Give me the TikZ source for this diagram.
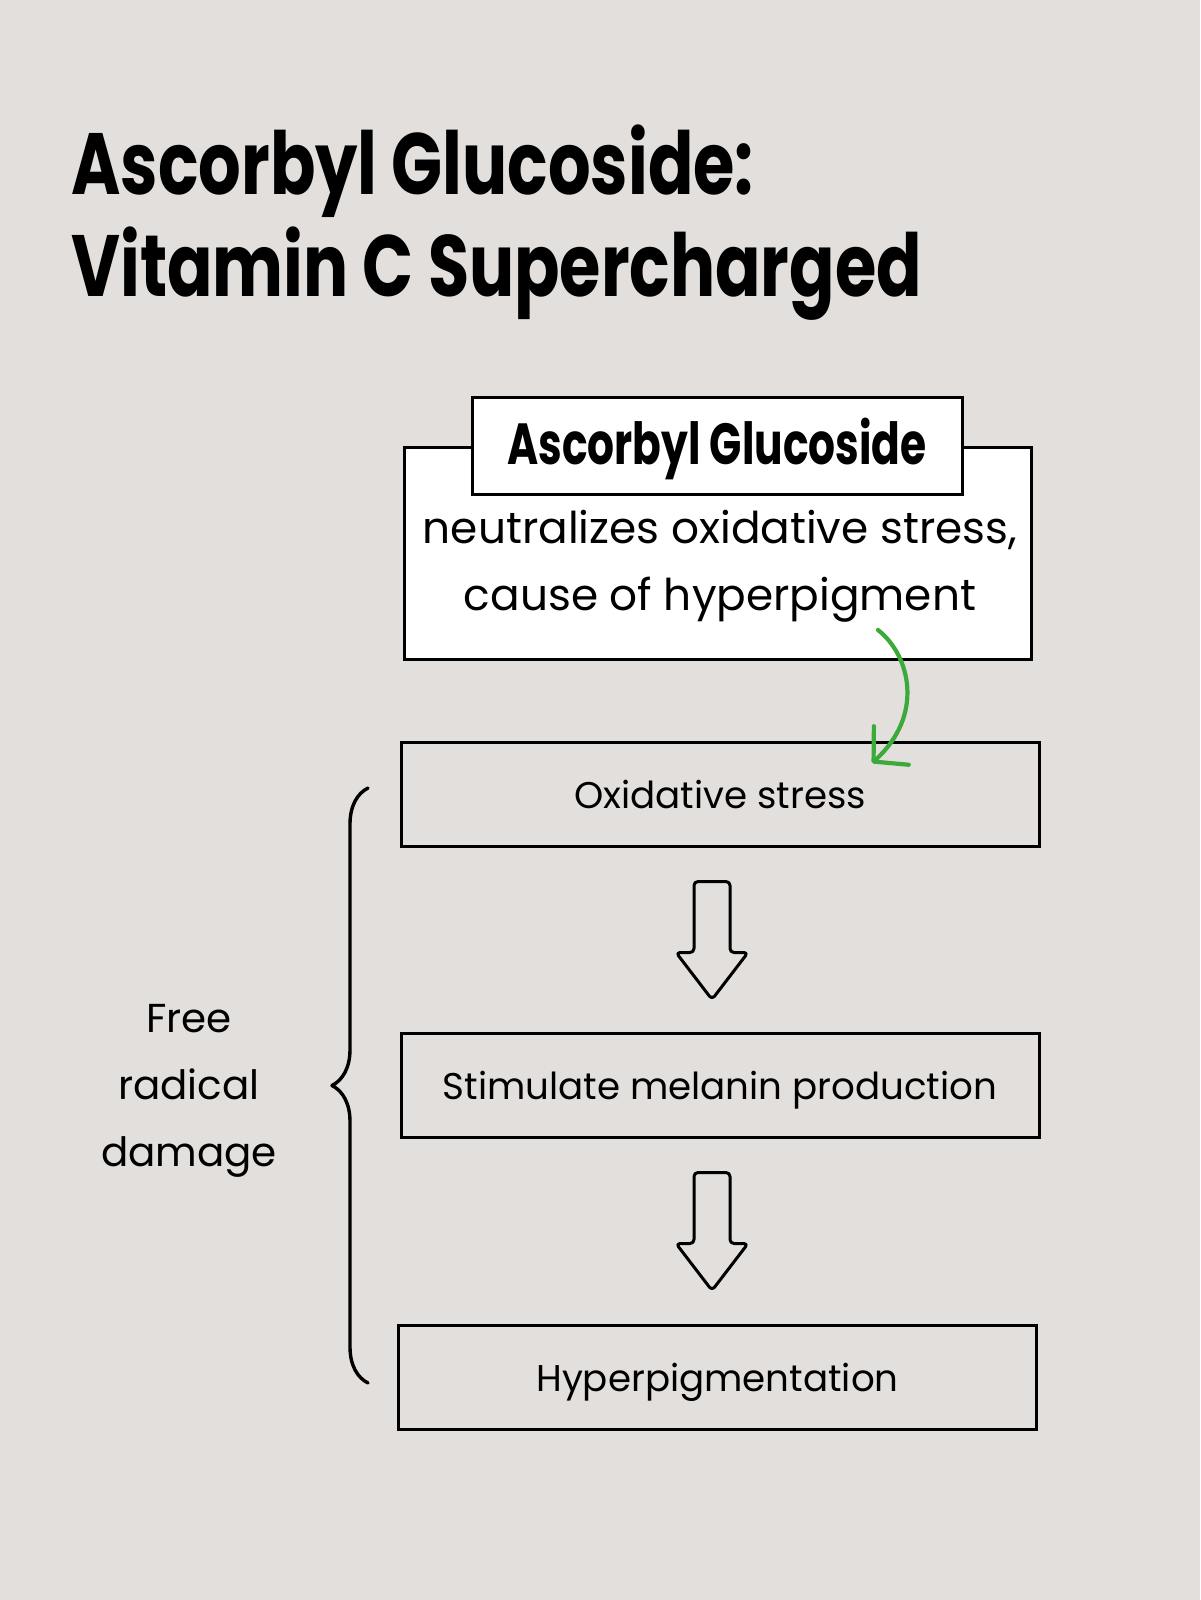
\documentclass[tikz,border=0pt]{standalone}
\usepackage{fontspec}
\setmainfont{Poppins}
\usepackage{graphicx}
\usetikzlibrary{arrows.meta}
\usetikzlibrary{calc}
\usetikzlibrary{decorations.pathreplacing}
\definecolor{paper}{HTML}{E2DFDC}
\definecolor{leafgreen}{HTML}{3BAA3A}
\newcommand{\squeezebf}[2][0.77]{\scalebox{#1}[1]{\bfseries #2}}

\begin{document}
\begin{tikzpicture}[line cap=round,line join=round,x=0.5pt,y=-0.5pt,
  titletext/.style={inner sep=0pt,anchor=base west,font=\fontsize{43.5}{52}\selectfont},
  framebox/.style={draw,fill=white,line width=1.5pt,line join=miter,inner sep=0pt},
  flowbox/.style={draw,line width=1.5pt,line join=miter,inner sep=0pt,
    minimum width=319pt,minimum height=52pt,text height=17pt,text depth=3pt,
    font=\fontsize{18.6}{22}\selectfont},
  blockarrow/.style={draw,line width=1.5pt,rounded corners=2pt},
  bodytext/.style={inner sep=0pt,align=center,font=\fontsize{21.9}{33.5}\selectfont},
  sidetext/.style={inner sep=0pt,align=center,font=\fontsize{20.2}{33.5}\selectfont}]
\fill[paper] (0,0) rectangle (1200,1600);
%title
\node[titletext] (title1) at (71,194) {\squeezebf{Ascorbyl Glucoside:}};
\node[titletext] (title2) at (71,296) {\squeezebf{Vitamin C Supercharged}};
%ingredient box
\node[framebox,minimum width=313.5pt,minimum height=106pt] (desc) at (717.5,553) {};
\node[framebox,minimum width=245pt,minimum height=48.5pt,text height=22pt,text depth=3.5pt,
  font=\fontsize{29}{35}\selectfont] (head) at (717,445.5) {\squeezebf[0.73]{Ascorbyl Glucoside}};
\node[bodytext] (desctext) at (720,566) {neutralizes oxidative stress,\\cause of hyperpigment};
%chain
\node[flowbox] (ox) at (720,794) {Oxidative stress};
\node[flowbox] (mel) at (720,1085) {Stimulate melanin production};
\node[flowbox] (hyp) at (717.5,1377) {Hyperpigmentation};
\foreach \a in {ox,mel}
  \draw[blockarrow] ($(\a.south)+(-26,34)$) -- ($(\a.south)+(10,34)$) -- ($(\a.south)+(10,105)$)
    -- ($(\a.south)+(28,105)$) -- ($(\a.south)+(-8,152)$) -- ($(\a.south)+(-44,105)$)
    -- ($(\a.south)+(-26,105)$) -- cycle;
%green arrow
\coordinate (gstart) at (878,630);
\coordinate (gend) at (872,763);
\draw[leafgreen,line width=2.1pt,-{Straight Barb[length=12pt,width=26pt,round]}] (gstart) .. controls (910,655) and (925,715) .. (gend);
%brace
\coordinate (bracebot) at (368,1383);
\coordinate (bracetop) at (368,788);
\draw[decorate,decoration={brace,amplitude=18pt},line width=1.7pt] (bracebot) -- (bracetop);
\node[sidetext] (damage) at (189,1091) {Free\\radical\\damage};
\end{tikzpicture}
\end{document}
